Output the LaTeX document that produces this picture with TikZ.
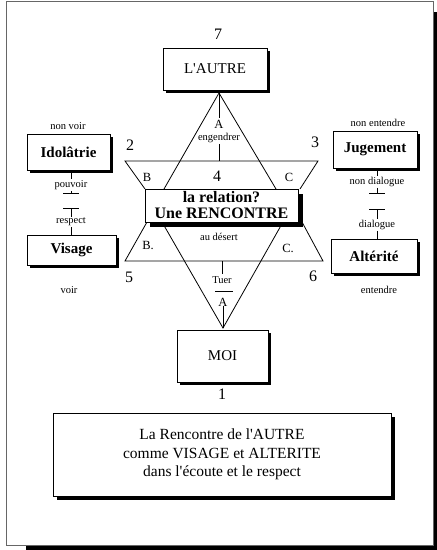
\documentclass[tikz,border=0pt]{standalone}
\usepackage{fontspec}
\setmainfont{Liberation Serif}
\usetikzlibrary{shadows}
\begin{document}
\begin{tikzpicture}[x=1pt,y=-1pt,
  every node/.style={inner sep=0pt},
  ln/.style={line width=0.8pt},
  box/.style={draw, fill=white, line width=0.8pt,
    drop shadow={shadow xshift=3pt, shadow yshift=-3pt, fill=black, opacity=1}},
  bigbox/.style={draw, fill=white, line width=1pt,
    drop shadow={shadow xshift=5pt, shadow yshift=-5pt, fill=black, opacity=1}},
  big/.style={font=\fontsize{15}{18}\selectfont},
  bigb/.style={font=\fontsize{15}{18}\selectfont\bfseries},
  small/.style={font=\fontsize{10.5}{12}\selectfont},
  num/.style={font=\fontsize{16}{18}\selectfont},
  letter/.style={font=\fontsize{12.5}{14}\selectfont},
]
\useasboundingbox (0,0) rectangle (437,550);
% outer frame with shadow
\fill[black] (26,545) rectangle (437,550);
\fill[black] (433,12) rectangle (437,550);
\draw[black!60, line width=1pt] (6,1) rectangle (433,545);

% key coordinates
\coordinate (apexT) at (219,93);
\coordinate (apexB) at (223,328);
\coordinate (tl) at (164,189);
\coordinate (tr) at (276,189);
\coordinate (bl) at (162,222);
\coordinate (br) at (283,222);

% triangles
\draw[ln] (tl) -- (apexT) -- (tr);
\draw[ln] (bl) -- (apexB) -- (br);
% hourglass trapezoids
\draw[ln] (145,189) -- (125,161) -- (318,161) -- (300,189);
\draw[ln] (147,222) -- (125,261) -- (323,261) -- (302,222);

% main boxes
\node[box, big, minimum width=104pt, minimum height=42pt] (autre) at (215,69) {L\textquotesingle AUTRE};
\node[box, big, minimum width=91pt, minimum height=52pt] (moi) at (222.5,356) {MOI};
\node[bigbox, bigb, minimum width=153pt, minimum height=33pt, align=center,
      font=\fontsize{16}{16}\selectfont\bfseries] (rel) at (221.5,205.5) {la relation?\\Une RENCONTRE};

% numbers
\node[num] (n7) at (218,34) {7};
\node[num] (n1) at (222,394) {1};
\node[num] (n2) at (130,145) {2};
\node[num] (n3) at (315,142) {3};
\node[num] (n4) at (217,176) {4};
\node[num] (n5) at (129,277) {5};
\node[num] (n6) at (313,276) {6};

% letters
\node[letter] (aT) at (219,124) {A};
\node[small] (eng) at (219,138) {engendrer};
\node[letter] (bT) at (147,177) {B};
\node[letter] (cT) at (289,177) {C};
\node[letter] (bB) at (148,245) {B.};
\node[letter] (cB) at (288,248) {C.};
\node[small] (des) at (219,237) {au désert};
\node[small] (tuer) at (222,280) {Tuer};
\node[letter] (aB) at (223,302) {A};
\coordinate (barT) at (224,291);

% vertical connectors in the triangles
\draw[ln] (apexT) -- ([yshift=2pt]aT.north);
\draw[ln] ([yshift=-1pt]eng.south) -- (219,161);
\draw[ln] (222,261) -- ([yshift=2pt]tuer.north);
\draw[ln] ([xshift=-9pt]barT) -- ([xshift=9pt]barT);
\draw[ln] (aB.south) -- (apexB);

% left column
\node[box, bigb, minimum width=83pt, minimum height=36pt] (idol) at (68.5,152) {Idolâtrie};
\node[box, bigb, minimum width=89pt, minimum height=30pt] (vis) at (71.5,250) {Visage};
\node[small] (nvoir) at (68,126) {non voir};
\node[small] (voir) at (69,290) {voir};
\node[small] (pouv) at (71,185) {pouvoir};
\node[small] (resp) at (71,222) {respect};
\coordinate (lx) at (71,0);
\coordinate (lt1) at (71,193);
\coordinate (lt2) at (71,208);
\draw[ln] (idol.south -| lx) -- ([yshift=1pt]pouv.north);
\draw[ln] ([yshift=-1pt]pouv.south) -- (lt1);
\draw[ln] ([xshift=-8pt]lt1) -- ([xshift=8pt]lt1);
\draw[ln] ([xshift=-8pt]lt2) -- ([xshift=8pt]lt2);
\draw[ln] (lt2) -- ([yshift=1pt]resp.north);
\draw[ln] ([yshift=-1pt]resp.south) -- (vis.north -| lx);

% right column
\node[box, bigb, minimum width=84pt, minimum height=37pt] (jug) at (375,149.5) {Jugement};
\node[box, bigb, minimum width=86pt, minimum height=34pt] (alt) at (374,256) {Altérité};
\node[small] (nent) at (378,123) {non entendre};
\node[small] (ent) at (379,290) {entendre};
\node[small] (ndia) at (377,182) {non dialogue};
\node[small] (dia) at (377,225) {dialogue};
\coordinate (rx) at (377,0);
\coordinate (rt1) at (377,193);
\coordinate (rt2) at (377,209);
\draw[ln] (jug.south -| rx) -- ([yshift=1pt]ndia.north);
\draw[ln] ([yshift=-1pt]ndia.south) -- (rt1);
\draw[ln] ([xshift=-8pt]rt1) -- ([xshift=8pt]rt1);
\draw[ln] ([xshift=-8pt]rt2) -- ([xshift=8pt]rt2);
\draw[ln] (rt2) -- ([yshift=1pt]dia.north);
\draw[ln] ([yshift=-1pt]dia.south) -- (alt.north -| rx);

% bottom box
\node[draw, fill=white, line width=0.8pt,
  drop shadow={shadow xshift=4pt, shadow yshift=-4pt, fill=black, opacity=1},
  minimum width=338pt, minimum height=83pt, align=center,
  font=\fontsize{15.5}{18.5}\selectfont] (concl) at (222,454.5)
  {La Rencontre de l\textquotesingle AUTRE\\comme VISAGE et ALTERITE\\dans l\textquotesingle écoute et le respect};
\end{tikzpicture}
\end{document}
